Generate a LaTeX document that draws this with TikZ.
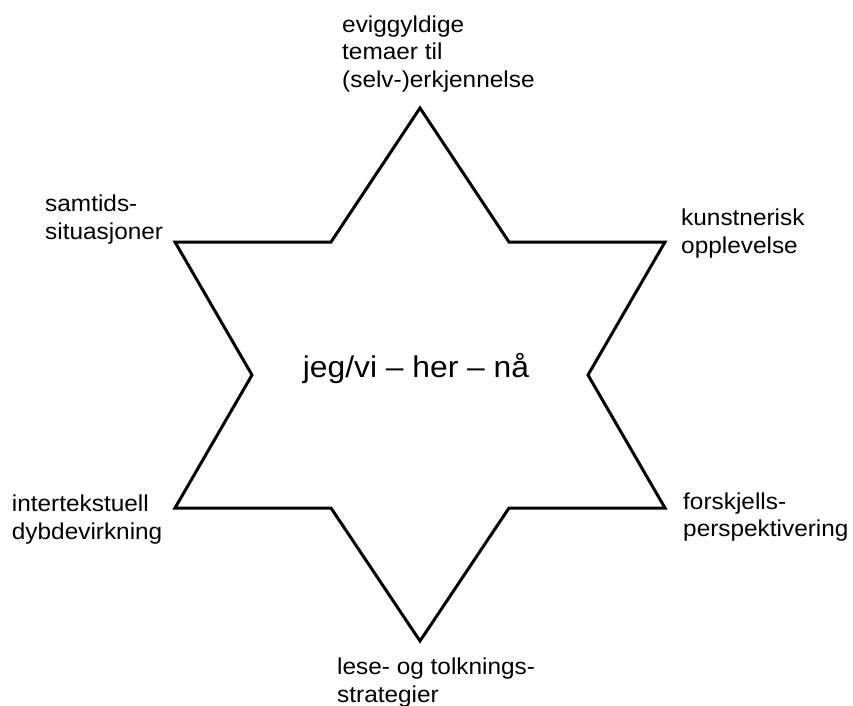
\documentclass[tikz,border=0pt]{standalone}
\usepackage{fontspec}
\setmainfont{Liberation Sans}[FakeStretch=1.06]
\begin{document}
\begin{tikzpicture}[x=1pt,y=-1pt,
  lbl/.style={anchor=base west,inner sep=0pt,align=left,font=\fontsize{23}{27.6}\selectfont},
  star/.style={draw=black,line width=3pt,line join=miter}]
\useasboundingbox (0,0) rectangle (853,705);
\coordinate (A) at (420,108);
\coordinate (B) at (509,242);
\coordinate (C) at (665,242);
\coordinate (D) at (588,375);
\coordinate (E) at (665,508);
\coordinate (F) at (509,508);
\coordinate (G) at (420,641);
\coordinate (H) at (331,508);
\coordinate (I) at (175,508);
\coordinate (J) at (252,375);
\coordinate (K) at (175,242);
\coordinate (L) at (331,242);
\draw[star] (A) -- (B) -- (C) -- (D) -- (E) -- (F) -- (G) -- (H) -- (I) -- (J) -- (K) -- (L) -- cycle;
\node[anchor=base,inner sep=0pt,font=\fontsize{30}{36}\selectfont] (center) at (416,377) {jeg/vi – her – nå};
\node[lbl] (top) at (342,87.3) {eviggyldige\\temaer til\\(selv-)erkjennelse};
\node[lbl] (ul) at (45,239.3) {samtids-\\situasjoner};
\node[lbl] (ur) at (681,253) {kunstnerisk\\opplevelse};
\node[lbl] (ll) at (11.7,539.3) {intertekstuell\\dybdevirkning};
\node[lbl] (lr) at (683,536.7) {forskjells-\\perspektivering};
\node[lbl] (bot) at (337,702) {lese- og tolknings-\\strategier};
\end{tikzpicture}
\end{document}
